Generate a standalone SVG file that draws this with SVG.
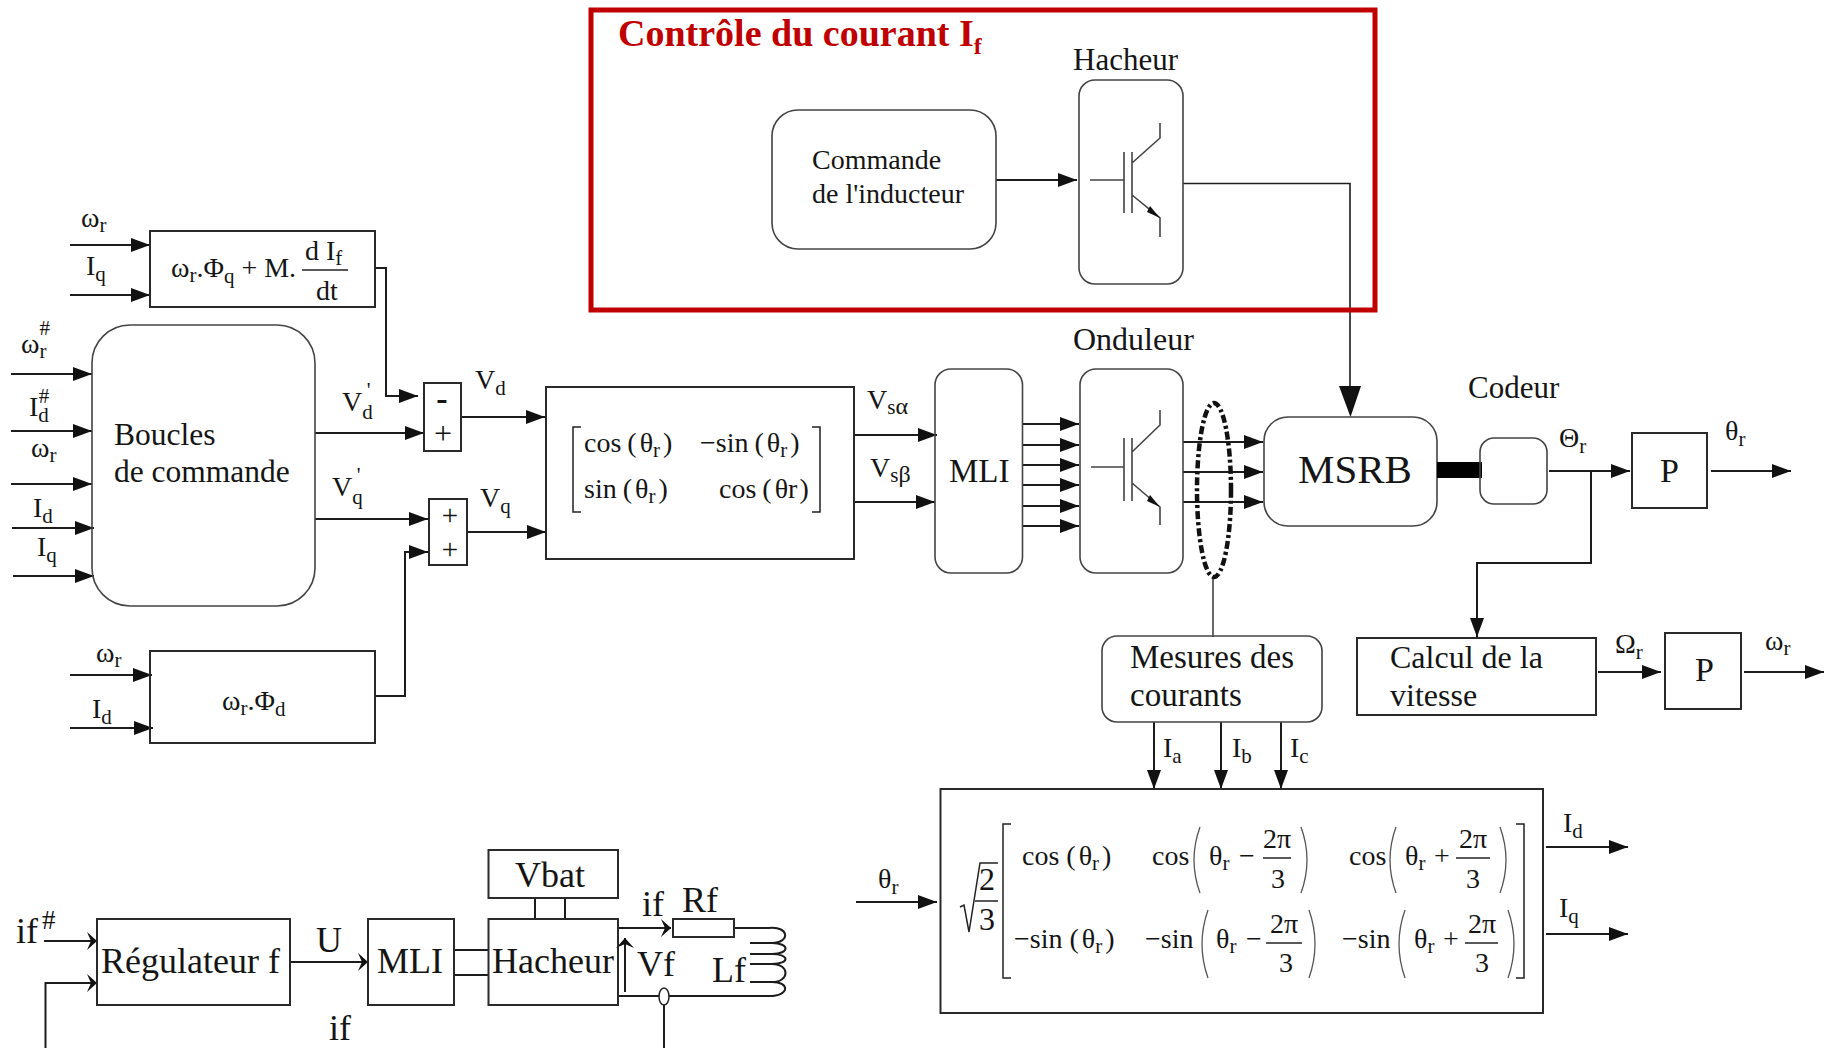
<svg xmlns="http://www.w3.org/2000/svg" width="1827" height="1048" viewBox="0 0 1827 1048">
<defs>
<style>
text{font-family:"Liberation Serif","Times New Roman",serif;fill:#151515;font-size:28px;white-space:pre}
.b{fill:none;stroke:#2a2a2a;stroke-width:2}
.r{fill:none;stroke:#444;stroke-width:1.6}
.w{fill:none;stroke:#1c1c1c;stroke-width:2}
.a{marker-end:url(#ar)}
.o{marker-end:url(#op)}
.s{font-size:21px}
.f1{font-size:32px}
.f2{font-size:36px}
.f3{font-size:28px}
.m{font-size:28px}
.p{fill:none;stroke:#555;stroke-width:1.3}
.k{fill:none;stroke:#222;stroke-width:1.5}
</style>
<marker id="ar" markerUnits="userSpaceOnUse" markerWidth="20" markerHeight="16" refX="19" refY="8" orient="auto"><path d="M0 1L19 8L0 15z" fill="#111"/></marker>
<marker id="op" markerUnits="userSpaceOnUse" markerWidth="17" markerHeight="18" refX="15" refY="9" orient="auto"><path d="M5 0L15 9L5 18L9 9z" fill="#111"/></marker>
</defs>
<rect width="1827" height="1048" fill="#fff"/>

<g id="connectors">
<path class="w a" d="M70 245H150"/><path class="w a" d="M70 295H150"/>
<path class="w a" d="M11 374H92"/><path class="w a" d="M11 431H92"/><path class="w a" d="M11 484H92"/><path class="w a" d="M12 528H94"/><path class="w a" d="M13 576H94"/>
<path class="w a" d="M70 675H152"/><path class="w a" d="M70 728H153"/>
<path class="w a" d="M375 268H386V396H418"/>
<path class="w a" d="M315 433H424"/><path class="w a" d="M315 519H428"/>
<path class="w a" d="M375 696H405V552H428"/>
<path class="w a" d="M462 417H545"/><path class="w a" d="M467 532H546"/>
<path class="w a" d="M854 435H937"/><path class="w a" d="M854 502H935"/>
<path class="w a" d="M1023 424H1079"/><path class="w a" d="M1023 445H1079"/><path class="w a" d="M1023 465H1079"/><path class="w a" d="M1023 485H1079"/><path class="w a" d="M1023 506H1079"/><path class="w a" d="M1023 526H1079"/>
<path class="w a" d="M1183 442H1263"/><path class="w a" d="M1183 472H1263"/><path class="w a" d="M1183 502H1263"/>
<path class="w a" d="M996 180H1077"/>
<path class="w" d="M1183 183.500H1350V390" style="stroke-width:1.6"/>
<path d="M1339 386H1361L1350.500 417z" fill="#111"/>
<path d="M1213 577V637" class="r"/>
<path class="w a" d="M1154 722V789"/><path class="w a" d="M1221 722V789"/><path class="w a" d="M1281 722V789"/>
<path class="w a" d="M1549 471H1630"/><path class="w a" d="M1711 471H1791"/>
<path class="w a" d="M1591 471V563H1477V637"/>
<path class="w a" d="M1598 672H1661"/><path class="w a" d="M1744 672H1824"/>
<path class="w a" d="M856 902H937"/>
<path class="w a" d="M1546 847H1628"/><path class="w a" d="M1546 934H1628"/>
<path class="w o" d="M44 941H97"/><path class="w o" d="M45.500 1048V983H97"/>
<path class="w o" d="M290 962H368"/>
<path class="w" d="M454 950H488.500M454 975H488.500M535 898V919M565 898V919"/>
<path class="w o" d="M618 928H671"/>
<path class="w" d="M734 928H769M618 996H769"/>
<path class="w o" d="M625 992V938"/>
<path class="w" d="M664 1005V1048"/>
</g>

<g id="controle-courant">
<rect x="591" y="10" width="784" height="300" fill="none" stroke="#c00000" stroke-width="5"/>
<text x="618" y="46" style="font-size:38px;font-weight:bold;fill:#c00000">Contrôle du courant I<tspan dy="8" style="font-size:24px;fill:#c00000">f</tspan></text>
</g>

<g id="commande-inducteur">
<rect class="r" x="772" y="110" width="224" height="139" rx="26"/>
<text x="812" y="169" class="m">Commande</text>
<text x="812" y="203" class="m">de l'inducteur</text>
</g>

<g id="hacheur-haut">
<text x="1073" y="70" style="font-size:31px">Hacheur</text>
<rect class="r" x="1079" y="80" width="104" height="204" rx="16"/>
<path class="r" d="M1090 180H1124M1124 152V213M1132 152V213M1132 163L1160 138V123M1132 195L1160 218V237"/>
<path d="M1150 206L1160 218L1147 212z" fill="#111"/>
</g>

<g id="onduleur">
<text x="1073" y="350" style="font-size:32px">Onduleur</text>
<rect class="r" x="1080" y="369" width="103" height="204" rx="16"/>
<path class="r" d="M1091 467H1124M1124 438V501M1132 438V501M1132 452L1160 425V410M1132 483L1160 507V525"/>
<path d="M1150 495L1160 507L1147 501z" fill="#111"/>
</g>

<g id="mesure-ellipse">
<ellipse cx="1214" cy="490" rx="17" ry="87" fill="none" stroke="#111" stroke-width="4.500" stroke-dasharray="8 3 3 3"/>
</g>

<g id="f-box-q">
<rect class="b" x="150" y="231" width="225" height="76"/>
<text x="171" y="277">ω<tspan class="s" dy="5">r</tspan><tspan dy="-5">.Φ</tspan><tspan class="s" dy="6">q</tspan><tspan dy="-6"> + M.</tspan></text>
<path class="k" d="M302 270H348"/>
<text x="305" y="260">d I<tspan class="s" dy="5">f</tspan></text>
<text x="316" y="300">dt</text>
</g>

<g id="f-box-d">
<rect class="b" x="150" y="651" width="225" height="92"/>
<text x="222" y="710">ω<tspan class="s" dy="5">r</tspan><tspan dy="-5">.Φ</tspan><tspan class="s" dy="6">d</tspan></text>
</g>

<g id="boucles">
<rect class="r" x="92" y="325" width="223" height="281" rx="38"/>
<text x="114" y="445" style="font-size:31.500px">Boucles</text>
<text x="114" y="482" style="font-size:31.500px">de commande</text>
</g>

<g id="sum-d">
<rect class="b" x="424" y="383" width="37" height="68"/>
<text x="442" y="410" text-anchor="middle" style="font-size:34px;font-weight:bold">-</text>
<text x="443" y="444" text-anchor="middle" style="font-size:32px">+</text>
</g>
<g id="sum-q">
<rect class="b" x="429" y="499" width="38" height="66"/>
<text x="450" y="525" text-anchor="middle" style="font-size:29px">+</text>
<text x="450" y="559" text-anchor="middle" style="font-size:29px">+</text>
</g>

<g id="labels-left">
<text x="81" y="227">ω<tspan class="s" dy="5">r</tspan></text>
<text x="86" y="275">I<tspan class="s" dy="6">q</tspan></text>
<text x="21" y="353">ω<tspan class="s" dy="5">r</tspan><tspan class="s" dx="-7" dy="-23">#</tspan></text>
<text x="29" y="416">I<tspan class="s" dy="6">d</tspan><tspan class="s" dx="-10" dy="-19">#</tspan></text>
<text x="31" y="457">ω<tspan class="s" dy="5">r</tspan></text>
<text x="33" y="517">I<tspan class="s" dy="6">d</tspan></text>
<text x="37" y="556">I<tspan class="s" dy="6">q</tspan></text>
<text x="96" y="662">ω<tspan class="s" dy="5">r</tspan></text>
<text x="92" y="718">I<tspan class="s" dy="6">d</tspan></text>
<text x="342" y="411">V<tspan class="s" dy="8">d</tspan><tspan class="s" dy="-22" dx="-6">'</tspan></text>
<text x="332" y="496">V<tspan class="s" dy="8">q</tspan><tspan class="s" dy="-22" dx="-6">'</tspan></text>
<text x="475" y="389">V<tspan class="s" dy="6">d</tspan></text>
<text x="480" y="507">V<tspan class="s" dy="6">q</tspan></text>
</g>

<g id="matrice-park">
<rect class="b" x="546" y="387" width="308" height="172"/>
<path class="k" d="M581 427H573V512H581M812 427H820V512H812"/>
<text x="584" y="452" class="m">cos<tspan dx="6">(</tspan><tspan dx="3">θ</tspan><tspan class="s" dy="5">r</tspan><tspan dy="-5" dx="3">)</tspan></text>
<text x="700" y="452" class="m">−sin<tspan dx="6">(</tspan><tspan dx="3">θ</tspan><tspan class="s" dy="5">r</tspan><tspan dy="-5" dx="3">)</tspan></text>
<text x="584" y="498" class="m">sin<tspan dx="6">(</tspan><tspan dx="3">θ</tspan><tspan class="s" dy="5">r</tspan><tspan dy="-5" dx="3">)</tspan></text>
<text x="719" y="498" class="m">cos<tspan dx="6">(</tspan><tspan dx="3">θr</tspan><tspan dx="2">)</tspan></text>
<text x="867" y="409">V<tspan class="s" dy="5">s</tspan><tspan style="font-size:24px">α</tspan></text>
<text x="870" y="477">V<tspan class="s" dy="5">s</tspan><tspan style="font-size:24px">β</tspan></text>
</g>

<g id="mli-onduleur">
<rect class="r" x="935" y="369" width="87.500" height="204" rx="16"/>
<text x="949" y="482" style="font-size:33px">MLI</text>
</g>

<g id="msrb">
<rect class="r" x="1264" y="417" width="173" height="109" rx="24"/>
<text x="1298" y="483" style="font-size:41px">MSRB</text>
<rect x="1437" y="462" width="45" height="16" fill="#000"/>
</g>

<g id="codeur">
<rect class="r" x="1480" y="438" width="67" height="66" rx="14"/>
<text x="1468" y="398" style="font-size:31px">Codeur</text>
<text x="1559" y="447">Θ<tspan class="s" dy="6">r</tspan></text>
</g>

<g id="p-theta">
<rect class="b" x="1632" y="433" width="75" height="75"/>
<text x="1660" y="482" style="font-size:34px">P</text>
<text x="1725" y="440">θ<tspan class="s" dy="6">r</tspan></text>
</g>

<g id="calcul-vitesse">
<rect class="b" x="1357" y="638" width="239" height="77"/>
<text x="1390" y="668" class="f1">Calcul de la</text>
<text x="1390" y="706" class="f1">vitesse</text>
<text x="1615" y="653">Ω<tspan class="s" dy="6">r</tspan></text>
</g>

<g id="p-omega">
<rect class="b" x="1665" y="633" width="76" height="76"/>
<text x="1695" y="681" style="font-size:34px">P</text>
<text x="1765" y="650">ω<tspan class="s" dy="5">r</tspan></text>
</g>

<g id="mesures">
<rect class="r" x="1102" y="636" width="220" height="86" rx="15"/>
<text x="1130" y="668" style="font-size:33px">Mesures des</text>
<text x="1130" y="706" style="font-size:33px">courants</text>
<text x="1163" y="757">I<tspan class="s" dy="6">a</tspan></text>
<text x="1232" y="757">I<tspan class="s" dy="6">b</tspan></text>
<text x="1290" y="757">I<tspan class="s" dy="6">c</tspan></text>
</g>

<g id="matrice-concordia">
<rect class="b" x="940.500" y="789" width="602.500" height="224"/>
<text x="878" y="888">θ<tspan class="s" dy="6">r</tspan></text>
<path class="k" d="M960 907L964 905L969 932L980 863H998"/>
<text x="979" y="890" class="f1">2</text><path class="k" d="M975 901H998"/><text x="979" y="930" class="f1">3</text>
<path class="k" d="M1011 824H1003V978H1011M1516 824H1524V978H1516"/>
<text x="1022" y="865" class="m">cos<tspan dx="7">(</tspan><tspan dx="3">θ</tspan><tspan class="s" dy="5">r</tspan><tspan dy="-5" dx="3">)</tspan></text>
<text x="1152" y="865" class="m">cos</text>
<path class="p" d="M1200 827Q1188 860 1200 893M1301 827Q1313 860 1301 893"/>
<text x="1209" y="865" class="m">θ<tspan class="s" dy="5">r</tspan></text><text x="1239" y="865" class="m">−</text>
<text x="1263" y="848" class="m">2π</text><path class="k" d="M1263 858H1291"/><text x="1271" y="888" class="m">3</text>
<text x="1349" y="865" class="m">cos</text>
<path class="p" d="M1396 827Q1384 860 1396 893M1500 827Q1512 860 1500 893"/>
<text x="1405" y="865" class="m">θ<tspan class="s" dy="5">r</tspan></text><text x="1434" y="865" class="m">+</text>
<text x="1459" y="848" class="m">2π</text><path class="k" d="M1456 858H1490"/><text x="1466" y="888" class="m">3</text>
<text x="1014" y="948" class="m">−sin<tspan dx="7">(</tspan><tspan dx="3">θ</tspan><tspan class="s" dy="5">r</tspan><tspan dy="-5" dx="3">)</tspan></text>
<text x="1145" y="948" class="m">−sin</text>
<path class="p" d="M1208 910Q1196 944 1208 978M1309 910Q1321 944 1309 978"/>
<text x="1216" y="948" class="m">θ<tspan class="s" dy="5">r</tspan></text><text x="1246" y="948" class="m">−</text>
<text x="1270" y="933" class="m">2π</text><path class="k" d="M1266 943H1302"/><text x="1279" y="972" class="m">3</text>
<text x="1342" y="948" class="m">−sin</text>
<path class="p" d="M1405 910Q1393 944 1405 978M1508 910Q1520 944 1508 978"/>
<text x="1414" y="948" class="m">θ<tspan class="s" dy="5">r</tspan></text><text x="1443" y="948" class="m">+</text>
<text x="1468" y="933" class="m">2π</text><path class="k" d="M1465 943H1498"/><text x="1475" y="972" class="m">3</text>
<text x="1563" y="832">I<tspan class="s" dy="6">d</tspan></text>
<text x="1559" y="917">I<tspan class="s" dy="6">q</tspan></text>
</g>

<g id="regulateur-f">
<rect class="b" x="97" y="919" width="193" height="86"/>
<text x="101" y="973" class="f2">Régulateur f</text>
<text x="16" y="943" class="f2">if<tspan dx="4" dy="-14" style="font-size:27px">#</tspan></text>
<text x="316" y="952" class="f2">U</text>
<text x="329" y="1040" class="f2">if</text>
</g>
<g id="mli-f">
<rect class="b" x="368" y="919" width="86" height="86"/>
<text x="377" y="973" class="f2">MLI</text>
</g>
<g id="hacheur-f">
<rect class="b" x="488.500" y="919" width="129.500" height="86"/>
<text x="492" y="973" class="f2">Hacheur</text>
</g>
<g id="vbat">
<rect class="b" x="488.500" y="850" width="129.500" height="48"/>
<text x="515" y="887" class="f2">Vbat</text>
</g>
<g id="circuit-f">
<rect class="b" x="673" y="919" width="61" height="18"/>
<text x="642" y="916" class="f2">if</text><text x="682" y="912" class="f2">Rf</text>
<text x="637" y="976" class="f2">Vf</text><text x="712" y="982" class="f2">Lf</text>
<path class="w" d="M769 928C790 926 790 943 772 943H750M772 943C790 943 790 954 772 954H750M772 954C790 954 790 964 772 964H750M772 964C790 964 790 982 772 982H750M772 982C790 982 790 996 769 996"/>
<ellipse cx="664" cy="996.500" rx="5" ry="8.500" fill="#fff" stroke="#222" stroke-width="1.500"/>
</g>
</svg>
